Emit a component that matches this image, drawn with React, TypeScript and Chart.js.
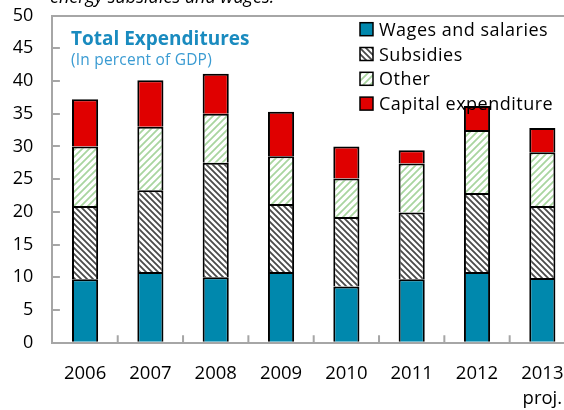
import React, { useEffect, useRef } from 'react';
import { Chart, registerables } from 'chart.js';
Chart.register(...registerables);

const years: (string | string[])[] = ['2006', '2007', '2008', '2009', '2010', '2011', '2012', ['2013', 'proj.']];
const wages = [9.7, 10.8, 10.0, 10.8, 8.6, 9.7, 10.8, 9.9];
const subsidies = [11.2, 12.5, 17.5, 10.4, 10.6, 10.2, 12.1, 11.0];
const other = [9.1, 9.7, 7.5, 7.3, 5.9, 7.5, 9.6, 8.2];
const capital = [7.2, 7.1, 6.1, 6.8, 4.9, 2.0, 3.7, 3.7];
const seriesNames = ['Wages and salaries', 'Subsidies', 'Other', 'Capital expenditure'];
const yMin = 0;
const yMax = 50;
const yStep = 5;
const chartTitle = 'Total Expenditures';
const chartSubtitle = '(In percent of GDP)';
const topNote = 'energy subsidies and wages.';

const FONT = '"Open Sans", Lato, sans-serif';

function makeHatch(ctx: CanvasRenderingContext2D, color: string, size: number, dir: 'back' | 'fwd', lw: number) {
  const c = document.createElement('canvas');
  c.width = size;
  c.height = size;
  const g = c.getContext('2d')!;
  g.fillStyle = '#ffffff';
  g.fillRect(0, 0, size, size);
  g.strokeStyle = color;
  g.lineWidth = lw;
  g.beginPath();
  if (dir === 'back') {
    g.moveTo(-2, -2); g.lineTo(size + 2, size + 2);
    g.moveTo(-2, size - 2); g.lineTo(2, size + 2);
    g.moveTo(size - 2, -2); g.lineTo(size + 2, 2);
  } else {
    g.moveTo(-2, size + 2); g.lineTo(size + 2, -2);
    g.moveTo(-2, 2); g.lineTo(2, -2);
    g.moveTo(size - 2, size + 2); g.lineTo(size + 2, size - 2);
  }
  g.stroke();
  return ctx.createPattern(c, 'repeat')!;
}

export default function App() {
  const ref = useRef<HTMLCanvasElement | null>(null);
  useEffect(() => {
    const canvas = ref.current!;
    const ctx = canvas.getContext('2d')!;
    const subsPattern = makeHatch(ctx, '#4a4a4a', 6, 'back', 1.8);
    const otherPattern = makeHatch(ctx, '#a9d5a0', 7, 'fwd', 1.8);
    const fills: (string | CanvasPattern)[] = ['#0088ad', subsPattern, otherPattern, '#e00000'];

    const overlay = {
      id: 'overlay',
      afterDraw(chart: any) {
        const c: any = chart.ctx;
        const area = chart.chartArea;
        const ys = chart.scales.y;
        const xs = chart.scales.x;
        c.save();
        // inward tick marks
        c.strokeStyle = '#a6a6a6';
        c.lineWidth = 2;
        c.beginPath();
        for (let v = yMin + yStep; v < yMax; v += yStep) {
          const y = Math.round(ys.getPixelForValue(v));
          c.moveTo(area.left, y);
          c.lineTo(area.left + 7.5, y);
        }
        for (let i = 1; i < years.length; i++) {
          const x = (xs.getPixelForValue(i - 1) + xs.getPixelForValue(i)) / 2;
          c.moveTo(x, area.bottom);
          c.lineTo(x, area.bottom - 7.5);
        }
        c.stroke();

        // title texts
        c.fillStyle = '#000';
        c.font = `italic 18px ${FONT}`;
        c.textBaseline = 'alphabetic';
        c.textAlign = 'left';
        c.fillText(topNote, 50, 3);
        c.fillStyle = '#1a8bbf';
        c.font = `bold 19px ${FONT}`;
        c.fillText(chartTitle, 71, 44.5);
        c.fillStyle = '#3a9bd2';
        c.font = `15.5px ${FONT}`;
        c.letterSpacing = '0.2px';
        c.fillText(chartSubtitle, 71, 65);

        // legend
        c.letterSpacing = '0.5px';
        for (let i = 0; i < seriesNames.length; i++) {
          const cy = 29.2 + i * 24.8;
          c.fillStyle = fills[i] as any;
          c.fillRect(360, cy - 6.5, 13, 13);
          c.strokeStyle = '#000';
          c.lineWidth = 1.5;
          c.strokeRect(360, cy - 6.5, 13, 13);
          c.fillStyle = '#000';
          c.font = `18px ${FONT}`;
          c.fillText(seriesNames[i], 379, cy + 6.5);
        }
        c.letterSpacing = '0px';
        c.restore();
      },
    };

    const mk = (label: string, data: number[], bg: any) => ({
      label,
      data,
      backgroundColor: bg,
      borderColor: '#000',
      borderWidth: 2,
      borderSkipped: 'start' as const,
      barPercentage: 0.4,
      categoryPercentage: 1,
    });

    const chart = new Chart(canvas, {
      type: 'bar',
      data: {
        labels: years as any,
        datasets: [
          mk(seriesNames[0], wages, fills[0]),
          mk(seriesNames[1], subsidies, fills[1]),
          mk(seriesNames[2], other, fills[2]),
          mk(seriesNames[3], capital, fills[3]),
        ],
      },
      options: {
        animation: false,
        responsive: false,
        layout: { padding: { top: 15.6, right: 5, left: 0, bottom: 0 } },
        plugins: { legend: { display: false }, tooltip: { enabled: false }, title: { display: false } },
        scales: {
          x: {
            stacked: true,
            grid: { display: false },
            border: { display: true, color: '#a6a6a6', width: 2 },
            ticks: { color: '#000', font: { family: FONT, size: 18.5, lineHeight: 1.32 }, padding: 11, maxRotation: 0 },
            afterFit: (s: any) => {
              s.height = 410 - 342.7;
              s.paddingLeft = 0; s.paddingRight = 0; s.paddingTop = 0; s.paddingBottom = 0;
            },
          },
          y: {
            stacked: true,
            min: yMin,
            max: yMax,
            grid: {
              drawTicks: false,
              lineWidth: 2,
              color: (c: any) => (c.tick && c.tick.value === yMax ? '#a6a6a6' : 'rgba(0,0,0,0)'),
            },
            border: { display: true, color: '#a6a6a6', width: 2 },
            ticks: { stepSize: yStep, color: '#000', font: { family: FONT, size: 18 }, padding: 19 },
            afterFit: (s: any) => {
              s.width = 52.4;
              s.paddingLeft = 0; s.paddingRight = 0; s.paddingTop = 0; s.paddingBottom = 0;
            },
          },
        },
      },
      plugins: [overlay],
    });
    return () => chart.destroy();
  }, []);

  return (
    <div style={{ position: 'fixed', left: 0, top: 0, width: 564, height: 410, overflow: 'hidden', background: '#fff' }}>
      <canvas ref={ref} width={580} height={410} style={{ display: 'block' }} />
    </div>
  );
}
